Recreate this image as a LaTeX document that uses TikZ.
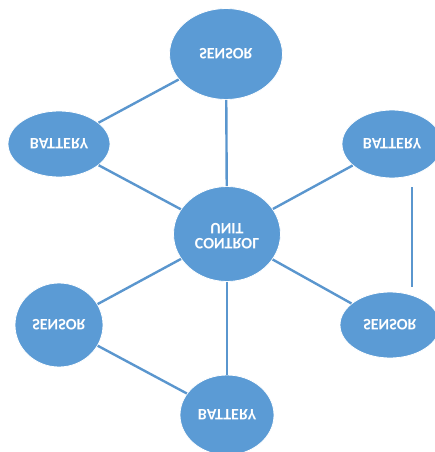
\documentclass[tikz,border=0pt]{standalone}
\usepackage{fontspec}
\setsansfont{Carlito}
\usetikzlibrary{shapes.geometric}
\definecolor{blobBlue}{HTML}{5B9BD5}
\definecolor{linkBlue}{HTML}{5A96CE}
% upside-down label, as in the picture
\newcommand{\flipped}[1]{\scalebox{1}[-1]{#1}}
\tikzset{
    % abstract base node style
    base/.style = {
        ellipse, fill=blobBlue, draw=white, line width=0.8pt,
        inner sep=0pt, text=white, align=center,
        font=\sffamily\bfseries\fontsize{16}{16}\selectfont
    },
    % connector style
    link/.style = {draw=linkBlue, line width=2.4pt}
}

\begin{document}
\begin{tikzpicture}[x=1pt, y=-1pt]
        \clip (0,0) rectangle (435,452);
        % place the ellipses
        \node[base, minimum width=113pt, minimum height=91pt] (topSensor) at (226,54) {\flipped{SENSOR}};
        \node[base, minimum width=102pt, minimum height=66pt] (leftBattery) at (59,144) {\flipped{BATTERY}};
        \node[base, minimum width=100pt, minimum height=68pt] (rightBattery) at (392,144) {\flipped{BATTERY}};
        \node[base, minimum width=107pt, minimum height=95pt] (controlUnit) at (227,234) {\flipped{\begin{tabular}{@{}c@{}}CONTROL\\[-1pt]UNIT\end{tabular}}};
        \node[base, minimum width=88pt, minimum height=84pt] (leftSensor) at (59,325) {\flipped{SENSOR}};
        \node[base, minimum width=100pt, minimum height=66pt] (rightSensor) at (390,325) {\flipped{SENSOR}};
        \node[base, minimum width=94pt, minimum height=80pt] (bottomBattery) at (227,415) {\flipped{BATTERY}};
        % draw the straight links
        \path[link] (topSensor) edge (leftBattery)
                    (topSensor) edge (controlUnit)
                    (leftBattery) edge (controlUnit)
                    (rightBattery) edge (controlUnit)
                    (controlUnit) edge (leftSensor)
                    (controlUnit) edge (rightSensor)
                    (controlUnit) edge (bottomBattery)
                    (leftSensor) edge (bottomBattery);
        % vertical link on the right
        \coordinate (rail) at (412,0);
        \draw[link, shorten <=9pt, shorten >=5pt] (rightBattery.south -| rail) -- (rightSensor.north -| rail);
    \end{tikzpicture}
\end{document}
